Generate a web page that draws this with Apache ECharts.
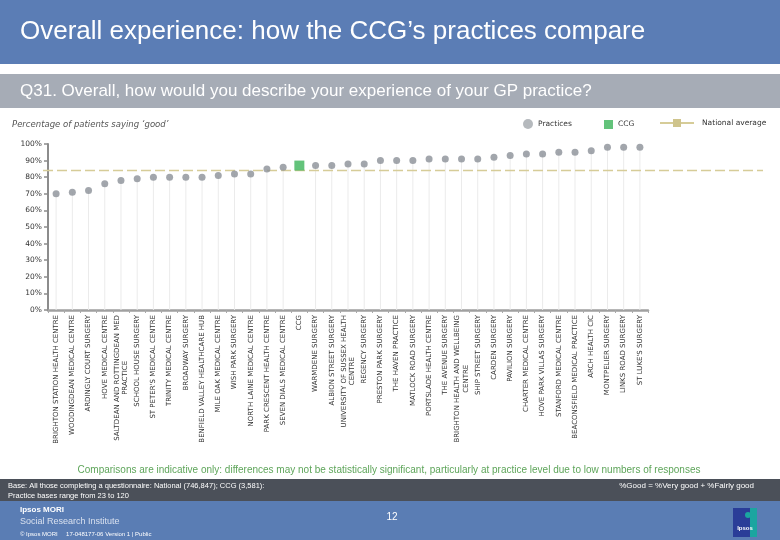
<!DOCTYPE html>
<html><head><meta charset="utf-8">
<script src="https://cdn.jsdelivr.net/npm/echarts@6/dist/echarts.min.js"></script>
<style>html,body{margin:0;padding:0;background:#fff}#c{width:780px;height:540px}</style>
</head><body><div id="c"></div>
<script>
const categories = [
  'BRIGHTON STATION HEALTH CENTRE', 'WOODINGDEAN MEDICAL CENTRE', 'ARDINGLY COURT SURGERY',
  'HOVE MEDICAL CENTRE', 'SALTDEAN AND ROTTINGDEAN MED\nPRACTICE', 'SCHOOL HOUSE SURGERY',
  'ST PETER\'S MEDICAL CENTRE', 'TRINITY MEDICAL CENTRE', 'BROADWAY SURGERY',
  'BENFIELD VALLEY HEALTHCARE HUB', 'MILE OAK MEDICAL CENTRE', 'WISH PARK SURGERY',
  'NORTH LAINE MEDICAL CENTRE', 'PARK CRESCENT HEALTH CENTRE', 'SEVEN DIALS MEDICAL CENTRE',
  'CCG', 'WARMDENE SURGERY', 'ALBION STREET SURGERY',
  'UNIVERSITY OF SUSSEX HEALTH\nCENTRE', 'REGENCY SURGERY', 'PRESTON PARK SURGERY',
  'THE HAVEN PRACTICE', 'MATLOCK ROAD SURGERY', 'PORTSLADE HEALTH CENTRE',
  'THE AVENUE SURGERY', 'BRIGHTON HEALTH AND WELLBEING\nCENTRE', 'SHIP STREET SURGERY',
  'CARDEN SURGERY', 'PAVILION SURGERY', 'CHARTER MEDICAL CENTRE',
  'HOVE PARK VILLAS SURGERY', 'STANFORD MEDICAL CENTRE', 'BEACONSFIELD MEDICAL PRACTICE',
  'ARCH HEALTH CIC', 'MONTPELIER SURGERY', 'LINKS ROAD SURGERY', 'ST LUKE\'S SURGERY'
];
const values = [
  70, 71, 72, 76, 78, 79, 80, 80, 80, 80, 81, 82, 82, 85, 86,
  87, 87, 87, 88, 88, 90, 90, 90, 91, 91, 91, 91, 92, 93, 94, 94, 95, 95, 96, 98, 98, 98
];
const ccgCategory = 'CCG';
const nationalAverage = 84;
const yMin = 0, yMax = 100, yStep = 10;
const seriesNames = ['Practices', 'CCG', 'National average'];

const practiceData = values.map((v, i) => categories[i] === ccgCategory ? '-' : v);
const ccgData = values.map((v, i) => categories[i] === ccgCategory ? v : '-');
const stemData = values.map((v, i) => categories[i] === ccgCategory ? '-' : v);

const chart = echarts.init(document.getElementById('c'), null, {renderer: 'canvas'});
const F = '"Liberation Sans", Arial, sans-serif';
const D = '"DejaVu Sans", Verdana, sans-serif';

chart.setOption({
  animation: false,
  backgroundColor: '#ffffff',
  grid: [
    {left: 48, right: 132, top: 144, bottom: 230},
    {left: 43, right: 17, top: 144, bottom: 230}
  ],
  xAxis: [
    {
      type: 'category', data: categories, gridIndex: 0,
      axisLine: {lineStyle: {color: '#a0a0a0', width: 2.5}},
      axisTick: {show: true, alignWithLabel: false, interval: 0, length: 3, lineStyle: {color: '#a8a8a8', width: 1}},
      axisLabel: {
        interval: 0, rotate: 90, margin: 5, color: '#333',
        fontFamily: D, fontSize: 7, lineHeight: 8.5,
        formatter: v => v.split('\n').map(l => '{c|' + l + '}').join('\n'),
        rich: {c: {fontFamily: D, fontSize: 7, lineHeight: 8.5, color: '#333', align: 'center'}}
      },
      splitLine: {show: false}
    },
    {type: 'value', gridIndex: 1, min: 0, max: 1, show: false}
  ],
  yAxis: [
    {
      type: 'value', gridIndex: 0, min: yMin, max: yMax, interval: yStep,
      axisLine: {show: true, lineStyle: {color: '#8c8c8c', width: 2}},
      axisTick: {show: true, length: 4, lineStyle: {color: '#8c8c8c', width: 1.5}},
      axisLabel: {formatter: '{value}%', color: '#333', fontFamily: D, fontSize: 7.5, margin: 6},
      splitLine: {show: false}
    },
    {type: 'value', gridIndex: 1, min: yMin, max: yMax, show: false}
  ],
  legend: [
    {data: [{name: seriesNames[0], itemStyle: {color: '#a3a7ad'}}], left: 523, top: 119, itemWidth: 10, itemHeight: 10, padding: 0,
      textStyle: {fontFamily: D, fontSize: 7.5, color: '#333'}, selectedMode: false},
    {data: [seriesNames[1]], left: 604, top: 120, itemWidth: 9, itemHeight: 9, padding: 0,
      textStyle: {fontFamily: D, fontSize: 7.5, color: '#333'}, selectedMode: false},
    {data: [{name: seriesNames[2], lineStyle: {type: 'solid', width: 2, color: '#d6cc98'}}], left: 659, top: 119, itemWidth: 34, itemHeight: 10, padding: 0, itemGap: 0,
      lineStyle: {type: 'solid'},
      textStyle: {fontFamily: D, fontSize: 7.5, color: '#333', padding: [0, 0, 0, 3]}, selectedMode: false}
  ],
  series: [
    {
      name: 'stems', type: 'bar', data: stemData, barWidth: 1, silent: true,
      itemStyle: {color: '#ebebeb'}, z: 1
    },
    {
      name: seriesNames[2], type: 'line', xAxisIndex: 1, yAxisIndex: 1,
      data: [[0, nationalAverage], [1, nationalAverage]],
      symbol: 'rect', symbolSize: [9, 3], showSymbol: false, silent: true,
      itemStyle: {color: '#cfc48c'},
      lineStyle: {color: '#d6cc98', width: 1.5, type: [10, 4]}, z: 2
    },
    {
      name: seriesNames[0], type: 'scatter', data: practiceData,
      symbol: 'circle', symbolSize: 7, itemStyle: {color: '#8b9097'}, z: 3
    },
    {
      name: seriesNames[1], type: 'scatter', data: ccgData,
      symbol: 'rect', symbolSize: 10, itemStyle: {color: '#3cb45a'}, z: 4
    }
  ],
  graphic: [
    {type: 'rect', shape: {x: 0, y: 0, width: 780, height: 64}, style: {fill: '#5b7db5'}, silent: true},
    {type: 'text', x: 20, y: 32, style: {text: 'Overall experience: how the CCG\u2019s practices compare', fill: '#ffffff', font: '26px ' + F, verticalAlign: 'middle'}},
    {type: 'rect', shape: {x: 0, y: 74, width: 780, height: 34}, style: {fill: '#a6acb6'}, silent: true},
    {type: 'text', x: 20, y: 91, style: {text: 'Q31. Overall, how would you describe your experience of your GP practice?', fill: '#ffffff', font: '17px ' + F, verticalAlign: 'middle'}},
    {type: 'text', x: 12, y: 125, style: {text: 'Percentage of patients saying \u2018good\u2019', fill: '#555', font: 'italic 8.5px ' + D, verticalAlign: 'middle'}},
    {type: 'text', x: 389, y: 470, style: {text: 'Comparisons are indicative only: differences may not be statistically significant, particularly at practice level due to low numbers of responses', fill: '#5ea55a', font: '10px ' + F, align: 'center', verticalAlign: 'middle'}},
    {type: 'rect', shape: {x: 0, y: 479, width: 780, height: 22}, style: {fill: '#4b5059'}, silent: true},
    {type: 'text', x: 8, y: 486, style: {text: 'Base: All those completing a questionnaire: National (746,847); CCG (3,581):', fill: '#ffffff', font: '7.5px ' + F, verticalAlign: 'middle'}},
    {type: 'text', x: 8, y: 496, style: {text: 'Practice bases range from 23 to 120', fill: '#ffffff', font: '7.5px ' + F, verticalAlign: 'middle'}},
    {type: 'text', x: 754, y: 486, style: {text: '%Good = %Very good + %Fairly good', fill: '#ffffff', font: '8px ' + F, align: 'right', verticalAlign: 'middle'}},
    {type: 'rect', shape: {x: 0, y: 501, width: 780, height: 39}, style: {fill: '#5a7db4'}, silent: true},
    {type: 'text', x: 20, y: 510, style: {text: 'Ipsos MORI', fill: '#ffffff', font: 'bold 8px ' + F, verticalAlign: 'middle'}},
    {type: 'text', x: 20, y: 522, style: {text: 'Social Research Institute', fill: '#d8e0ee', font: '9px ' + F, verticalAlign: 'middle'}},
    {type: 'text', x: 20, y: 534, style: {text: '\u00a9 Ipsos MORI     17-048177-06 Version 1 | Public', fill: '#ffffff', font: '6px ' + F, verticalAlign: 'middle'}},
    {type: 'text', x: 392, y: 517, style: {text: '12', fill: '#ffffff', font: '10px ' + F, align: 'center', verticalAlign: 'middle'}},
    {type: 'rect', shape: {x: 733, y: 508, width: 17, height: 29}, style: {fill: '#2a3d98'}, silent: true},
    {type: 'rect', shape: {x: 750, y: 508, width: 7, height: 29}, style: {fill: '#1ba5a0'}, silent: true},
    {type: 'circle', shape: {cx: 748, cy: 515, r: 3}, style: {fill: '#1ba5a0'}, silent: true},
    {type: 'text', x: 745, y: 528, style: {text: 'Ipsos', fill: '#ffffff', font: 'bold 6px ' + F, align: 'center', verticalAlign: 'middle'}}
  ]
});
</script>
</body></html>
